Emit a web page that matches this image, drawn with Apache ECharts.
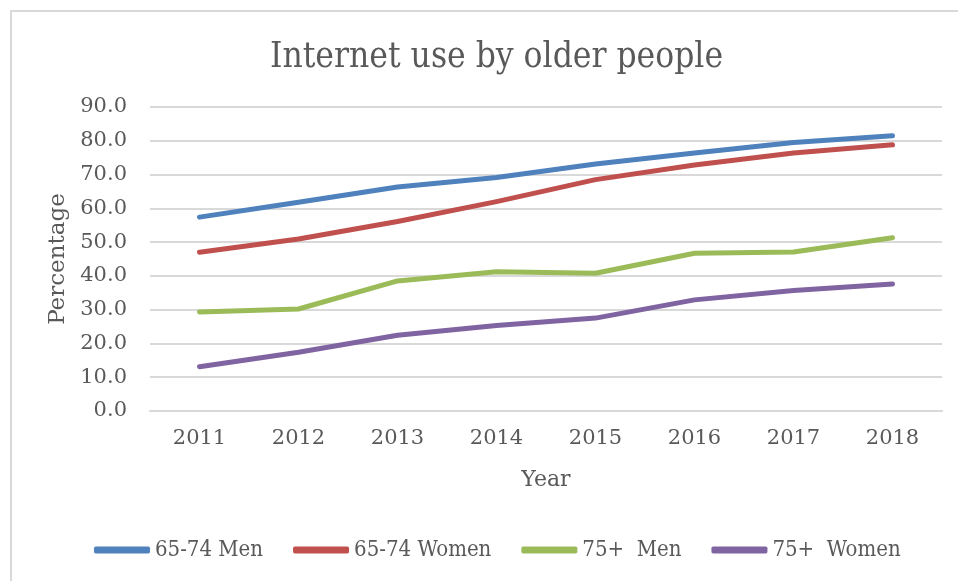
<!DOCTYPE html>
<html>
<head>
<meta charset="utf-8">
<script src="https://cdn.jsdelivr.net/npm/echarts@6/dist/echarts.min.js"></script>
<style>
  html, body { margin: 0; padding: 0; background: #fff; }
  #chart { width: 958px; height: 581px; }
</style>
</head>
<body>
<div id="chart"></div>
<script>
// values
const years = ['2011', '2012', '2013', '2014', '2015', '2016', '2017', '2018'];
const men6574 = [57.4, 61.8, 66.3, 69.1, 73.1, 76.4, 79.5, 81.5];
const women6574 = [47.0, 50.9, 56.1, 62.0, 68.5, 72.8, 76.4, 78.8];
const men75 = [29.3, 30.2, 38.5, 41.2, 40.8, 46.7, 47.1, 51.3];
const women75 = [13.1, 17.4, 22.4, 25.3, 27.5, 32.9, 35.7, 37.6];
const seriesNames = ['65-74 Men', '65-74 Women', '75+  Men', '75+  Women'];
const colors = ['#4f81bd', '#c0504d', '#9bbb59', '#8064a2'];

const serif = "'DejaVu Serif', 'Liberation Serif', serif";
const serifCond = "'DejaVu Serif Condensed', 'DejaVu Serif', serif";
const textColor = '#595959';

const chart = echarts.init(document.getElementById('chart'));

const seriesData = [men6574, women6574, men75, women75];

chart.setOption({
    animation: false,
    color: colors,
    title: {
        text: 'Internet use by older people',
        left: 265,
        top: 35,
        textStyle: {
            fontFamily: serifCond,
            fontWeight: 'normal',
            fontSize: 35,
            color: textColor
        }
    },
    legend: {
        bottom: 15,
        left: 89,
        icon: 'roundRect',
        itemWidth: 56,
        itemHeight: 7,
        itemGap: 30,
        textStyle: {
            fontFamily: serifCond,
            fontSize: 22,
            color: textColor
        },
        data: seriesNames
    },
    grid: {
        left: 150,
        right: 16,
        top: 107,
        bottom: 170
    },
    xAxis: {
        type: 'category',
        data: years,
        boundaryGap: true,
        name: 'Year',
        nameLocation: 'middle',
        nameGap: 58,
        nameTextStyle: {fontFamily: serif, fontSize: 22, color: textColor},
        axisLine: {lineStyle: {color: '#d9d9d9', width: 2}},
        axisTick: {show: false},
        axisLabel: {fontFamily: serif, fontSize: 21, color: textColor, margin: 17}
    },
    yAxis: {
        type: 'value',
        min: 0,
        max: 90,
        interval: 10,
        name: 'Percentage',
        nameLocation: 'middle',
        nameGap: 71,
        nameTextStyle: {fontFamily: serif, fontSize: 23, color: textColor},
        axisLine: {show: false},
        axisTick: {show: false},
        splitLine: {lineStyle: {color: '#d9d9d9', width: 2}},
        axisLabel: {
            fontFamily: serif,
            fontSize: 21,
            color: textColor,
            margin: 23,
            formatter: function (v) { return v.toFixed(1); }
        }
    },
    graphic: [{
        type: 'rect',
        z: -1,
        shape: {x: 11, y: 11, width: 980, height: 620},
        style: {fill: 'none', stroke: '#d9d9d9', lineWidth: 2}
    }],
    series: seriesData.map(function (d, i) {
        return {
            name: seriesNames[i],
            type: 'line',
            data: d,
            symbol: 'none',
            lineStyle: {width: 5, cap: 'round', join: 'round'}
        };
    })
});
</script>
</body>
</html>
